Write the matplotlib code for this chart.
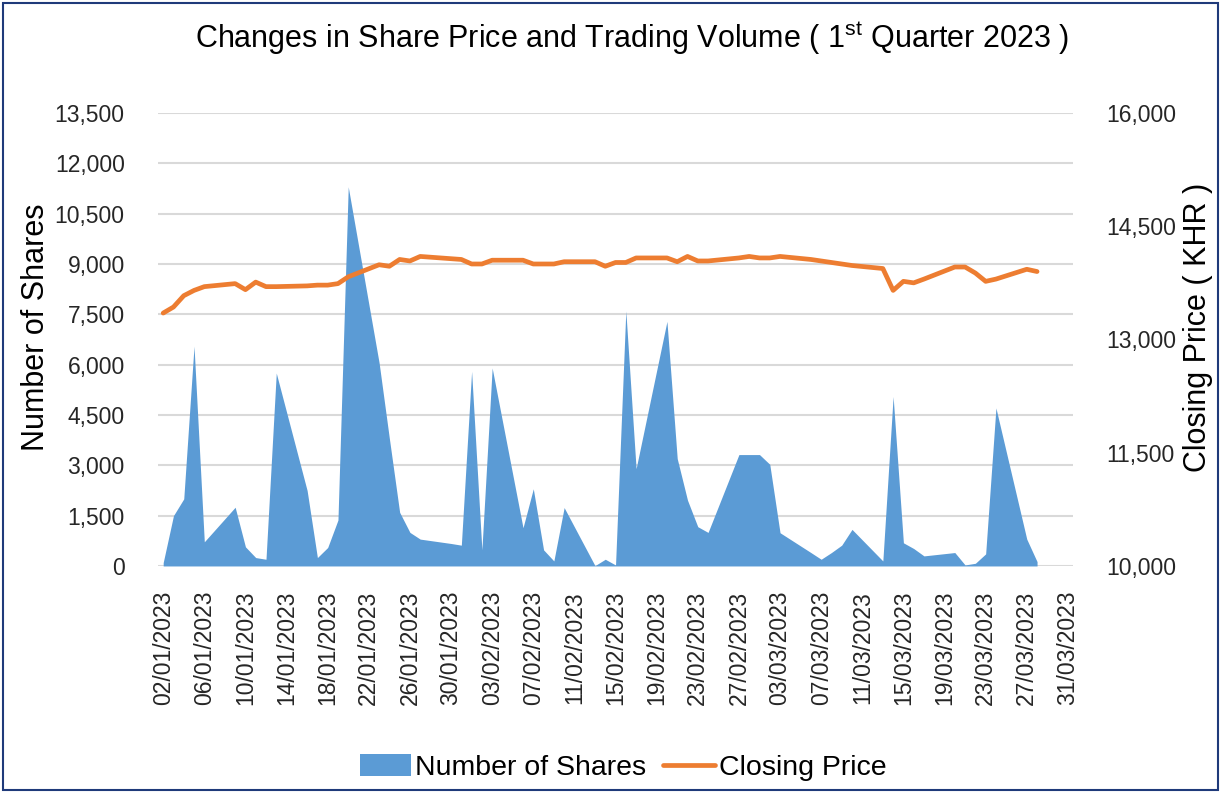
import matplotlib
matplotlib.use("Agg")
import matplotlib.pyplot as plt
import matplotlib.dates as mdates
from matplotlib.ticker import FuncFormatter, FixedLocator
from matplotlib.patches import Rectangle
import pandas as pd

plt.rcParams['font.family'] = ['Liberation Sans', 'DejaVu Sans']
plt.rcParams['mathtext.fontset'] = 'custom'
plt.rcParams['mathtext.rm'] = 'Liberation Sans'

# trading days, Q1 2023
dates = [
    "02/01/2023", "03/01/2023", "04/01/2023", "05/01/2023", "06/01/2023",
    "09/01/2023", "10/01/2023", "11/01/2023", "12/01/2023", "13/01/2023",
    "16/01/2023", "17/01/2023", "18/01/2023", "19/01/2023", "20/01/2023",
    "23/01/2023", "24/01/2023", "25/01/2023", "26/01/2023", "27/01/2023",
    "30/01/2023", "31/01/2023", "01/02/2023", "02/02/2023", "03/02/2023",
    "06/02/2023", "07/02/2023", "08/02/2023", "09/02/2023", "10/02/2023",
    "13/02/2023", "14/02/2023", "15/02/2023", "16/02/2023", "17/02/2023",
    "20/02/2023", "21/02/2023", "22/02/2023", "23/02/2023", "24/02/2023",
    "27/02/2023", "28/02/2023", "01/03/2023", "02/03/2023", "03/03/2023",
    "06/03/2023", "07/03/2023", "08/03/2023", "09/03/2023", "10/03/2023",
    "13/03/2023", "14/03/2023", "15/03/2023", "16/03/2023", "17/03/2023",
    "20/03/2023", "21/03/2023", "22/03/2023", "23/03/2023", "24/03/2023",
    "27/03/2023", "28/03/2023",
]

shares = [
    100, 1500, 2000, 6550, 720,
    1750, 570, 250, 200, 5750,
    2250, 250, 550, 1370, 11300,
    6060, 3800, 1600, 1000, 800,
    670, 620, 5800, 480, 5900,
    1140, 2300, 480, 150, 1740,
    10, 200, 30, 7600, 2900,
    7290, 3200, 1960, 1170, 1000,
    3320, 3320, 3320, 3030, 990,
    400, 200, 400, 620, 1090,
    150, 5050, 690, 520, 300,
    400, 30, 80, 360, 4710,
    800, 130,
]

price = [
    13350, 13430, 13580, 13650, 13700,
    13740, 13660, 13760, 13700, 13700,
    13710, 13720, 13720, 13740, 13830,
    13990, 13970, 14060, 14040, 14100,
    14070, 14060, 14000, 14000, 14050,
    14050, 14000, 14000, 14000, 14030,
    14030, 13970, 14020, 14020, 14080,
    14080, 14030, 14100, 14040, 14040,
    14080, 14100, 14080, 14080, 14100,
    14060, 14040, 14020, 14000, 13980,
    13940, 13650, 13770, 13750, 13800,
    13960, 13960, 13880, 13770, 13800,
    13930, 13900,
]

left_ticks = [0, 1500, 3000, 4500, 6000, 7500, 9000, 10500, 12000, 13500]
right_ticks = [10000, 11500, 13000, 14500, 16000]

x = pd.to_datetime(dates, dayfirst=True)

fig = plt.figure(figsize=(12.29, 7.93), dpi=100)
ax = fig.add_axes([0.1286, 0.2863, 0.7445, 0.5712])
ax2 = ax.twinx()

ax.fill_between(x, shares, 0, color="#5B9BD5", linewidth=0, label="Number of Shares")
ax2.plot(x, price, color="#ED7D31", linewidth=3.4, solid_capstyle="round",
         solid_joinstyle="round", label="Closing Price")

ax.set_ylim(0, 13500)
ax2.set_ylim(10000, 16000)
ax.yaxis.set_major_locator(FixedLocator(left_ticks))
ax2.yaxis.set_major_locator(FixedLocator(right_ticks))
fmt = FuncFormatter(lambda v, p: "{:,.0f}".format(v))
ax.yaxis.set_major_formatter(fmt)
ax2.yaxis.set_major_formatter(fmt)

xmin = pd.Timestamp("2023-01-02") - pd.Timedelta(hours=12)
xmax = pd.Timestamp("2023-03-31") + pd.Timedelta(hours=12)
ax.set_xlim(xmin, xmax)
ax.set_xticks(pd.date_range("2023-01-02", "2023-03-31", freq="4D"))
ax.xaxis.set_major_formatter(mdates.DateFormatter("%d/%m/%Y"))
for lbl in ax.get_xticklabels():
    lbl.set_rotation(90)

ax.grid(axis="y", color="#D9D9D9", linewidth=1.5)
ax.set_axisbelow(True)
for a in (ax, ax2):
    for s in a.spines.values():
        s.set_visible(False)
ax.tick_params(axis="both", length=0, labelsize=16.5, colors="#262626")
ax.tick_params(axis="y", pad=24)
ax.tick_params(axis="x", pad=18)
ax2.tick_params(axis="y", length=0, labelsize=16.5, colors="#262626", pad=24)

fig.text(0.029, 0.587, "Number of Shares", rotation=90, fontsize=22,
         ha="center", va="center")
fig.text(0.975, 0.587, "Closing Price ( KHR )", rotation=90, fontsize=22,
         ha="center", va="center")

fig.text(0.514, 0.952, r"Changes in Share Price and Trading Volume ( 1$^{\mathrm{st}}$ Quarter 2023 )",
         fontsize=22, ha="center", va="center")

h1, l1 = ax.get_legend_handles_labels()
h2, l2 = ax2.get_legend_handles_labels()
fig.legend(h1 + h2, l1 + l2, loc="center", bbox_to_anchor=(0.507, 0.032), ncol=2,
           frameon=False, fontsize=20.5, handlelength=1.8, handletextpad=0.15,
           columnspacing=0.6, handleheight=0.8)

# navy frame round the chart
fig.patches.append(Rectangle((3 / 1229, 3 / 793), 1215 / 1229, 787 / 793,
                             transform=fig.transFigure, fill=False,
                             edgecolor="#1F3A7A", linewidth=1.5))

fig.savefig("out.png", dpi=100)
